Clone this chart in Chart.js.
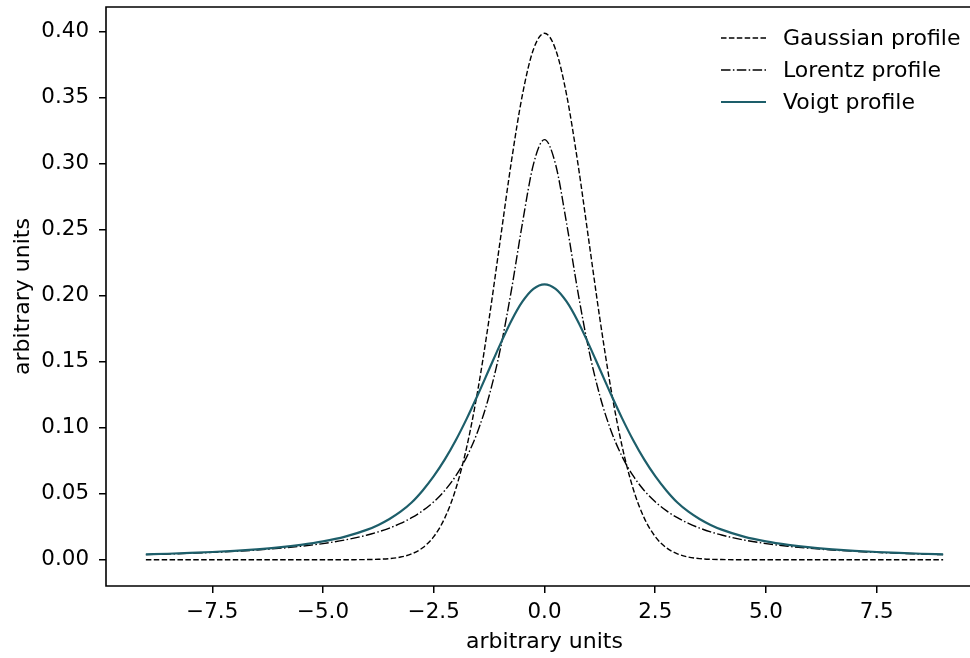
<!DOCTYPE html>
<html><head><meta charset="utf-8">
<script src="https://cdn.jsdelivr.net/npm/chart.js@4.4.1/dist/chart.umd.min.js"></script>
<style>html,body{margin:0;padding:0;background:#fff;overflow:hidden;width:970px;height:658px}#wrap{width:990px;height:658px}canvas{display:block}</style>
</head><body><div id="wrap"><canvas id="c" width="990" height="658"></canvas></div>
<script>
const xValues = [-9,-8.5,-8,-7.5,-7,-6.5,-6,-5.5,-5,-4.5,-4,-3.75,-3.5,-3.25,-3,-2.75,-2.5,-2.25,-2,-1.75,-1.5,-1.25,-1,-0.75,-0.5,-0.25,0,0.25,0.5,0.75,1,1.25,1.5,1.75,2,2.25,2.5,2.75,3,3.25,3.5,3.75,4,4.5,5,5.5,6,6.5,7,7.5,8,8.5,9];
const gaussianValues = [0,0,0,0,0,0,0,0,0,0.00002,0.00013,0.00035,0.00087,0.00203,0.00443,0.00909,0.01753,0.03174,0.05399,0.08628,0.12952,0.18265,0.24197,0.30114,0.35207,0.38667,0.39894,0.38667,0.35207,0.30114,0.24197,0.18265,0.12952,0.08628,0.05399,0.03174,0.01753,0.00909,0.00443,0.00203,0.00087,0.00035,0.00013,0.00002,0,0,0,0,0,0,0,0,0];
const lorentzValues = [0.00388,0.00435,0.00490,0.00556,0.00637,0.00736,0.00860,0.01019,0.01224,0.01498,0.01872,0.02113,0.02402,0.02753,0.03183,0.03717,0.04390,0.05250,0.06366,0.07835,0.09794,0.12422,0.15915,0.20372,0.25465,0.29959,0.31831,0.29959,0.25465,0.20372,0.15915,0.12422,0.09794,0.07835,0.06366,0.05250,0.04390,0.03717,0.03183,0.02753,0.02402,0.02113,0.01872,0.01498,0.01224,0.01019,0.00860,0.00736,0.00637,0.00556,0.00490,0.00435,0.00388];
const voigtValues = [0.00403,0.00454,0.00514,0.00587,0.00678,0.00792,0.00937,0.01130,0.01389,0.01752,0.02281,0.02640,0.03089,0.03640,0.04335,0.05250,0.06330,0.07600,0.09070,0.10730,0.12535,0.14430,0.16320,0.18090,0.19550,0.20525,0.20871,0.20525,0.19550,0.18090,0.16320,0.14430,0.12535,0.10730,0.09070,0.07600,0.06330,0.05250,0.04335,0.03640,0.03089,0.02640,0.02281,0.01752,0.01389,0.01130,0.00937,0.00792,0.00678,0.00587,0.00514,0.00454,0.00403];
const seriesNames = ['Gaussian profile','Lorentz profile','Voigt profile'];
const xTickValues = [-7.5,-5,-2.5,0,2.5,5,7.5];
const yTickValues = [0,0.05,0.10,0.15,0.20,0.25,0.30,0.35,0.40];
const xAxisTitle = 'arbitrary units';
const yAxisTitle = 'arbitrary units';

const FONT_FAMILY = "'DejaVu Sans', sans-serif";
const TICK_SIZE = 21.4;
const LABEL_SIZE = 22;
const toPts = ys => xValues.map((x,i)=>({x:x, y:ys[i]}));
const minusFmt = s => s.replace('-', '\u2212');

const framePlugin = {
  id:'frame',
  afterDatasetsDraw(chart){
    const {ctx, chartArea:a} = chart;
    ctx.save();
    ctx.strokeStyle='#000'; ctx.lineWidth=1.6; ctx.setLineDash([]);
    ctx.beginPath();
    ctx.moveTo(chart.width, a.top);
    ctx.lineTo(a.left, a.top);
    ctx.lineTo(a.left, a.bottom);
    ctx.lineTo(chart.width, a.bottom);
    ctx.stroke();
    ctx.restore();
  }
};
const legendPlugin = {
  id:'mplLegend',
  afterDraw(chart){
    const {ctx, chartArea:a} = chart;
    ctx.save();
    chart.data.datasets.forEach((ds,i)=>{
      const y = a.top + 31 + i*32;
      const x0 = a.right - 262, x1 = x0 + 45;
      ctx.beginPath();
      ctx.setLineDash(ds.borderDash || []);
      ctx.lineWidth = ds.borderWidth; ctx.strokeStyle = ds.borderColor;
      ctx.moveTo(x0, y); ctx.lineTo(x1, y); ctx.stroke();
      ctx.setLineDash([]);
      ctx.fillStyle = '#000';
      ctx.font = LABEL_SIZE + 'px ' + FONT_FAMILY;
      ctx.textBaseline = 'middle'; ctx.textAlign = 'left';
      ctx.fillText(ds.label, a.right - 200, y + 1);
    });
    ctx.restore();
  }
};

const tickFont = {family: FONT_FAMILY, size: TICK_SIZE};
const labelFont = {family: FONT_FAMILY, size: LABEL_SIZE};
new Chart(document.getElementById('c'), {
  type:'line',
  data:{
    datasets:[
      {label:seriesNames[0], data:toPts(gaussianValues), borderColor:'#000000', borderWidth:1.4, borderDash:[5.5,2.4], order:2},
      {label:seriesNames[1], data:toPts(lorentzValues), borderColor:'#000000', borderWidth:1.4, borderDash:[9.5,2.4,1.5,2.4], order:1},
      {label:seriesNames[2], data:toPts(voigtValues), borderColor:'#1d5e6a', borderWidth:2.2, borderDash:[], order:0}
    ]
  },
  options:{
    responsive:false, animation:false, devicePixelRatio:1,
    parsing:false,
    elements:{point:{radius:0, hoverRadius:0}, line:{cubicInterpolationMode:'monotone', fill:false}},
    layout:{padding:{top:7, right:7, left:0, bottom:0}},
    plugins:{legend:{display:false}, tooltip:{enabled:false}},
    events:[],
    scales:{
      x:{
        type:'linear', min:-9.9, max:9.9,
        afterBuildTicks: s => { s.ticks = xTickValues.map(v=>({value:v})); },
        afterFit: s => { s.height = 72; s.paddingLeft = 0; s.paddingRight = 0; },
        ticks:{font:tickFont, color:'#000', padding:7, maxRotation:0, autoSkip:false,
          callback: v => minusFmt(Number(v).toFixed(1))},
        grid:{display:true, drawOnChartArea:false, drawTicks:true, tickLength:7, color:'#000', lineWidth:1.5},
        border:{display:false},
        title:{display:true, text:xAxisTitle, font:labelFont, color:'#000', padding:{top:0,bottom:3}}
      },
      y:{
        type:'linear', min:-0.0199, max:0.4188,
        afterBuildTicks: s => { s.ticks = yTickValues.map(v=>({value:v})); },
        afterFit: s => { s.width = 106; s.paddingTop = 0; s.paddingBottom = 0; },
        ticks:{font:tickFont, color:'#000', padding:10, autoSkip:false,
          callback: v => minusFmt(Number(v).toFixed(2))},
        grid:{display:true, drawOnChartArea:false, drawTicks:true, tickLength:7, color:'#000', lineWidth:1.5},
        border:{display:false},
        title:{display:true, text:yAxisTitle, font:labelFont, color:'#000', padding:{top:10,bottom:0}}
      }
    }
  },
  plugins:[framePlugin, legendPlugin]
});
</script></body></html>
